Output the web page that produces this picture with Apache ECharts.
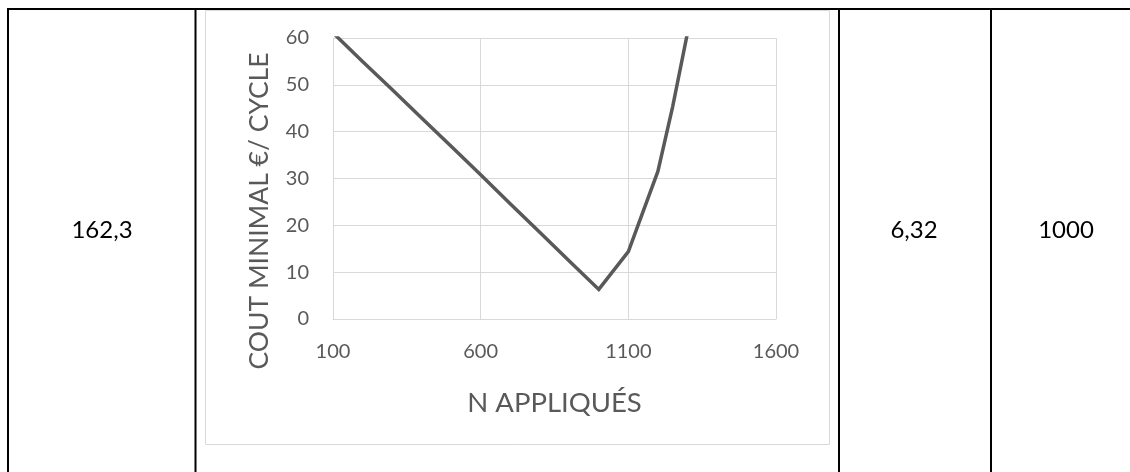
<!DOCTYPE html>
<html>
<head>
<meta charset="utf-8">
<script src="https://cdn.jsdelivr.net/npm/echarts@6/dist/echarts.min.js"></script>
<style>
html,body{margin:0;padding:0;background:#fff;}
#c{width:1130px;height:472px;}
</style>
</head>
<body>
<div id="c"></div>
<script>
// Data
const nApplied = [100, 200, 300, 400, 500, 600, 700, 800, 900, 1000, 1100, 1200, 1250, 1300];
const costPerCycle = [61.1, 55.0, 49.0, 42.9, 36.9, 30.8, 24.6, 18.5, 12.4, 6.32, 14.4, 31.5, 45.3, 61.0];
const xTickLabels = [100, 600, 1100, 1600];
const yTickLabels = [0, 10, 20, 30, 40, 50, 60];
const tableCells = ['162,3', '6,32', '1000'];
const xTitle = 'N APPLIQUÉS';
const yTitle = 'COUT MINIMAL €/ CYCLE';

const FONT = 'Lato, "Open Sans", sans-serif';
const chart = echarts.init(document.getElementById('c'), null, {renderer: 'canvas'});

const points = nApplied.map((n, i) => [n, costPerCycle[i]]);

const tableLine = (x1, y1, x2, y2) => ({
  type: 'line', silent: true, z: 10,
  shape: {x1, y1, x2, y2},
  style: {stroke: '#000', lineWidth: 2}
});
const cellText = (txt, x, y) => ({
  type: 'text', silent: true, z: 10,
  x, y,
  style: {text: txt, font: '24px ' + FONT, fill: '#000', align: 'center', verticalAlign: 'middle'}
});

chart.setOption({
  animation: false,
  backgroundColor: '#fff',
  grid: {left: 333, top: 38, right: 354, bottom: 153, containLabel: false},
  xAxis: {
    type: 'value', min: 100, max: 1600,
    name: xTitle, nameLocation: 'middle', nameGap: 70,
    nameTextStyle: {color: '#595959', fontFamily: FONT, fontSize: 27.5},
    axisLine: {show: true, lineStyle: {color: '#d9d9d9', width: 1}},
    axisTick: {show: false, customValues: xTickLabels},
    axisLabel: {customValues: xTickLabels, color: '#595959', fontFamily: FONT, fontSize: 20, margin: 23,
      formatter: v => String(v)},
    splitLine: {show: true, lineStyle: {color: '#d9d9d9', width: 1}}
  },
  yAxis: {
    type: 'value', min: 0, max: 60, interval: 10,
    axisLine: {show: true, lineStyle: {color: '#d9d9d9', width: 1}},
    axisTick: {show: false},
    axisLabel: {color: '#595959', fontFamily: FONT, fontSize: 20, margin: 24,
      formatter: v => (yTickLabels.indexOf(v) >= 0 ? String(v) : '')},
    splitLine: {show: true, lineStyle: {color: '#d9d9d9', width: 1}}
  },
  series: [{
    type: 'line',
    data: points,
    symbol: 'none',
    clip: true,
    lineStyle: {color: '#595959', width: 3.5, join: 'miter'},
    z: 5
  }],
  graphic: [
    {type: 'rect', silent: true, z: -10, shape: {x: 205.5, y: 10.5, width: 624, height: 434},
     style: {fill: '#fff', stroke: '#d9d9d9', lineWidth: 1}},
    {type: 'text', silent: true, z: 10, x: 259, y: 211, rotation: Math.PI / 2,
     style: {text: yTitle, font: '26.5px ' + FONT, fill: '#595959', align: 'center', verticalAlign: 'middle'}},
    tableLine(7, 9, 1130, 9),
    tableLine(8, 8, 8, 472),
    tableLine(195.5, 8, 195.5, 472),
    tableLine(839, 8, 839, 472),
    tableLine(991, 8, 991, 472),
    cellText(tableCells[0], 102, 230),
    cellText(tableCells[1], 914, 230),
    cellText(tableCells[2], 1066, 230)
  ]
});
</script>
</body>
</html>
